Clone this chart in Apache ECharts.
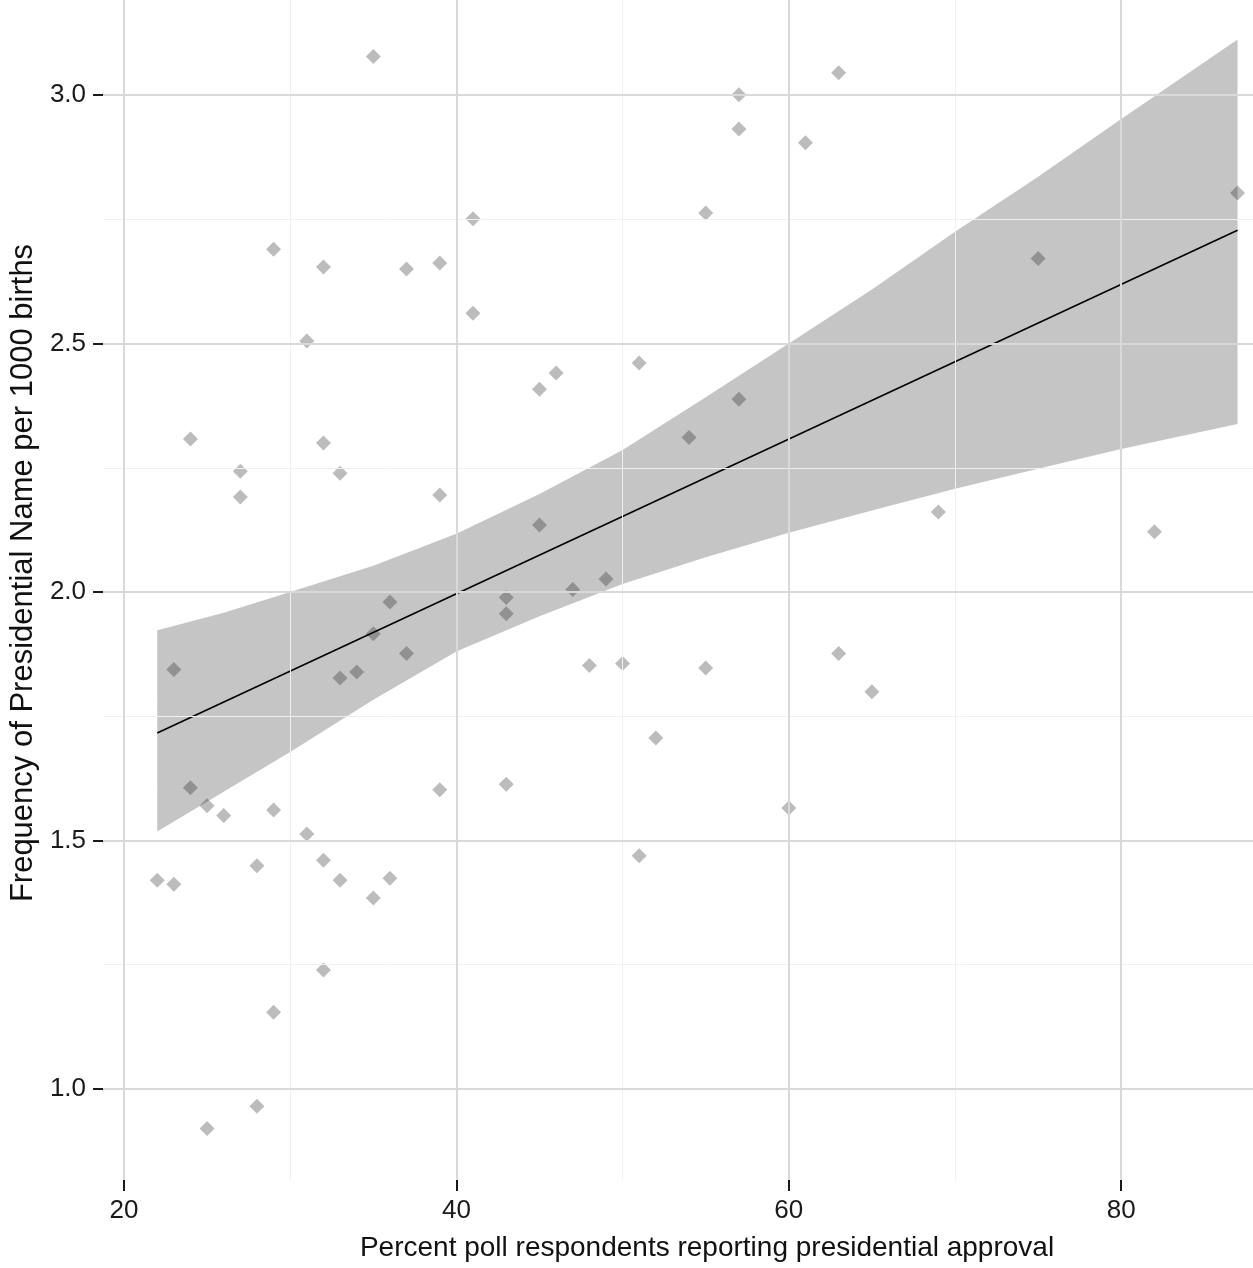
<!DOCTYPE html>
<html>
<head>
<meta charset="utf-8">
<script src="https://cdn.jsdelivr.net/npm/echarts@6/dist/echarts.min.js"></script>
<style>
html,body{margin:0;padding:0;background:#fff;}
#chart{width:1253px;height:1268px;}
</style>
</head>
<body>
<div id="chart"></div>
<script>
// ---- data ----
const approval = [35,29,32,37,39,41,41,31,24,32,27,27,33,39,45,46,51,45,54,57,55,57,57,61,63,75,87,69,82,
  23,36,35,34,33,37,43,43,47,49,48,50,55,63,65,52,24,25,26,29,39,43,60,31,32,28,22,23,33,36,35,51,32,29,28,25];
const frequency = [3.078,2.690,2.654,2.650,2.662,2.751,2.561,2.505,2.308,2.300,2.243,2.191,2.239,2.195,2.408,2.441,2.461,2.135,2.311,2.388,2.763,3.001,2.932,2.904,3.045,2.671,2.803,2.161,2.121,
  1.844,1.980,1.916,1.839,1.827,1.876,1.989,1.956,2.005,2.026,1.852,1.856,1.847,1.876,1.799,1.706,1.606,1.570,1.550,1.561,1.602,1.613,1.565,1.513,1.460,1.449,1.420,1.412,1.420,1.424,1.384,1.469,1.239,1.154,0.965,0.920];

// fitted line endpoints and confidence band
const fitX = [22, 87];
const fitY = [1.716, 2.728];
const bandX     = [22,    26,    30,    35,    40,    45,    50,    55,    60,    65,    70,    75,    80,    87];
const bandUpper = [1.923, 1.958, 2.000, 2.053, 2.117, 2.197, 2.286, 2.392, 2.500, 2.609, 2.725, 2.836, 2.952, 3.112];
const bandLower = [1.518, 1.598, 1.678, 1.783, 1.880, 1.951, 2.016, 2.070, 2.119, 2.164, 2.208, 2.248, 2.288, 2.338];

// axes
const xTicks = [20, 40, 60, 80];
const xMinor = [30, 50, 70];
const yTicks = [1.0, 1.5, 2.0, 2.5, 3.0];
const yMinor = [1.25, 1.75, 2.25, 2.75];
const xRange = [18.74, 87.93];
const yRange = [0.8165, 3.1915];
const xTitle = 'Percent poll respondents reporting presidential approval';
const yTitle = 'Frequency of Presidential Name per 1000 births';

// ---- chart ----
const FONT = 'Liberation Sans, Arial, sans-serif';
const chart = echarts.init(document.getElementById('chart'), null, {renderer: 'canvas'});

const points = approval.map((x, i) => [x, frequency[i]]);
const fitLine = fitX.map((x, i) => [x, fitY[i]]);

const majorStyle = {color: '#d9d9d9', width: 2, type: 'solid'};
const minorStyle = {color: '#f0f0f0', width: 1, type: 'solid'};
const gridLines = []
  .concat(xMinor.map(v => ({xAxis: v, lineStyle: minorStyle})))
  .concat(yMinor.map(v => ({yAxis: v, lineStyle: minorStyle})))
  .concat(xTicks.map(v => ({xAxis: v, lineStyle: majorStyle})))
  .concat(yTicks.map(v => ({yAxis: v, lineStyle: majorStyle})));

const option = {
  animation: false,
  backgroundColor: '#ffffff',
  grid: {left: 99, right: 0, top: 0, bottom: 88, containLabel: false},
  xAxis: {
    type: 'value', min: xRange[0], max: xRange[1],
    axisLine: {show: false},
    axisTick: {show: true, customValues: xTicks, length: 11, lineStyle: {color: '#1a1a1a', width: 2}},
    axisLabel: {customValues: xTicks, formatter: v => String(v), margin: 18,
      fontSize: 26, color: '#1a1a1a', fontFamily: FONT},
    splitLine: {show: false},
    name: xTitle, nameLocation: 'middle', nameGap: 54,
    nameTextStyle: {fontSize: 28, color: '#111', fontFamily: FONT, padding: [0, 0, 0, 58]}
  },
  yAxis: {
    type: 'value', min: yRange[0], max: yRange[1],
    axisLine: {show: false},
    axisTick: {show: true, customValues: yTicks, length: 10, lineStyle: {color: '#1a1a1a', width: 2}},
    axisLabel: {customValues: yTicks, formatter: v => v.toFixed(1), margin: 17,
      fontSize: 26, color: '#1a1a1a', fontFamily: FONT},
    splitLine: {show: false},
    name: yTitle, nameLocation: 'middle', nameGap: 64, nameRotate: 90,
    nameTextStyle: {fontSize: 31, color: '#111', fontFamily: FONT, padding: [0, 0, 0, 34]}
  },
  series: [
    {
      type: 'line', data: [], z: 0, silent: true,
      markLine: {silent: true, symbol: ['none', 'none'], label: {show: false},
        animation: false, emphasis: {disabled: true}, data: gridLines}
    },
    {
      type: 'custom', z: 1, silent: true,
      data: [0],
      renderItem: function (params, api) {
        const pts = [];
        for (let i = 0; i < bandX.length; i++) pts.push(api.coord([bandX[i], bandUpper[i]]));
        for (let i = bandX.length - 1; i >= 0; i--) pts.push(api.coord([bandX[i], bandLower[i]]));
        return {type: 'polygon', shape: {points: pts},
          style: {fill: 'rgba(80,80,80,0.33)', stroke: null}};
      }
    },
    {
      type: 'scatter', z: 2, data: points, symbol: 'diamond', symbolSize: [15, 15],
      itemStyle: {color: 'rgba(0,0,0,0.33)'}, silent: true
    },
    {
      type: 'line', z: 3, data: fitLine, symbol: 'none', silent: true,
      lineStyle: {color: '#000', width: 1.6}
    }
  ]
};
chart.setOption(option);
</script>
</body>
</html>
